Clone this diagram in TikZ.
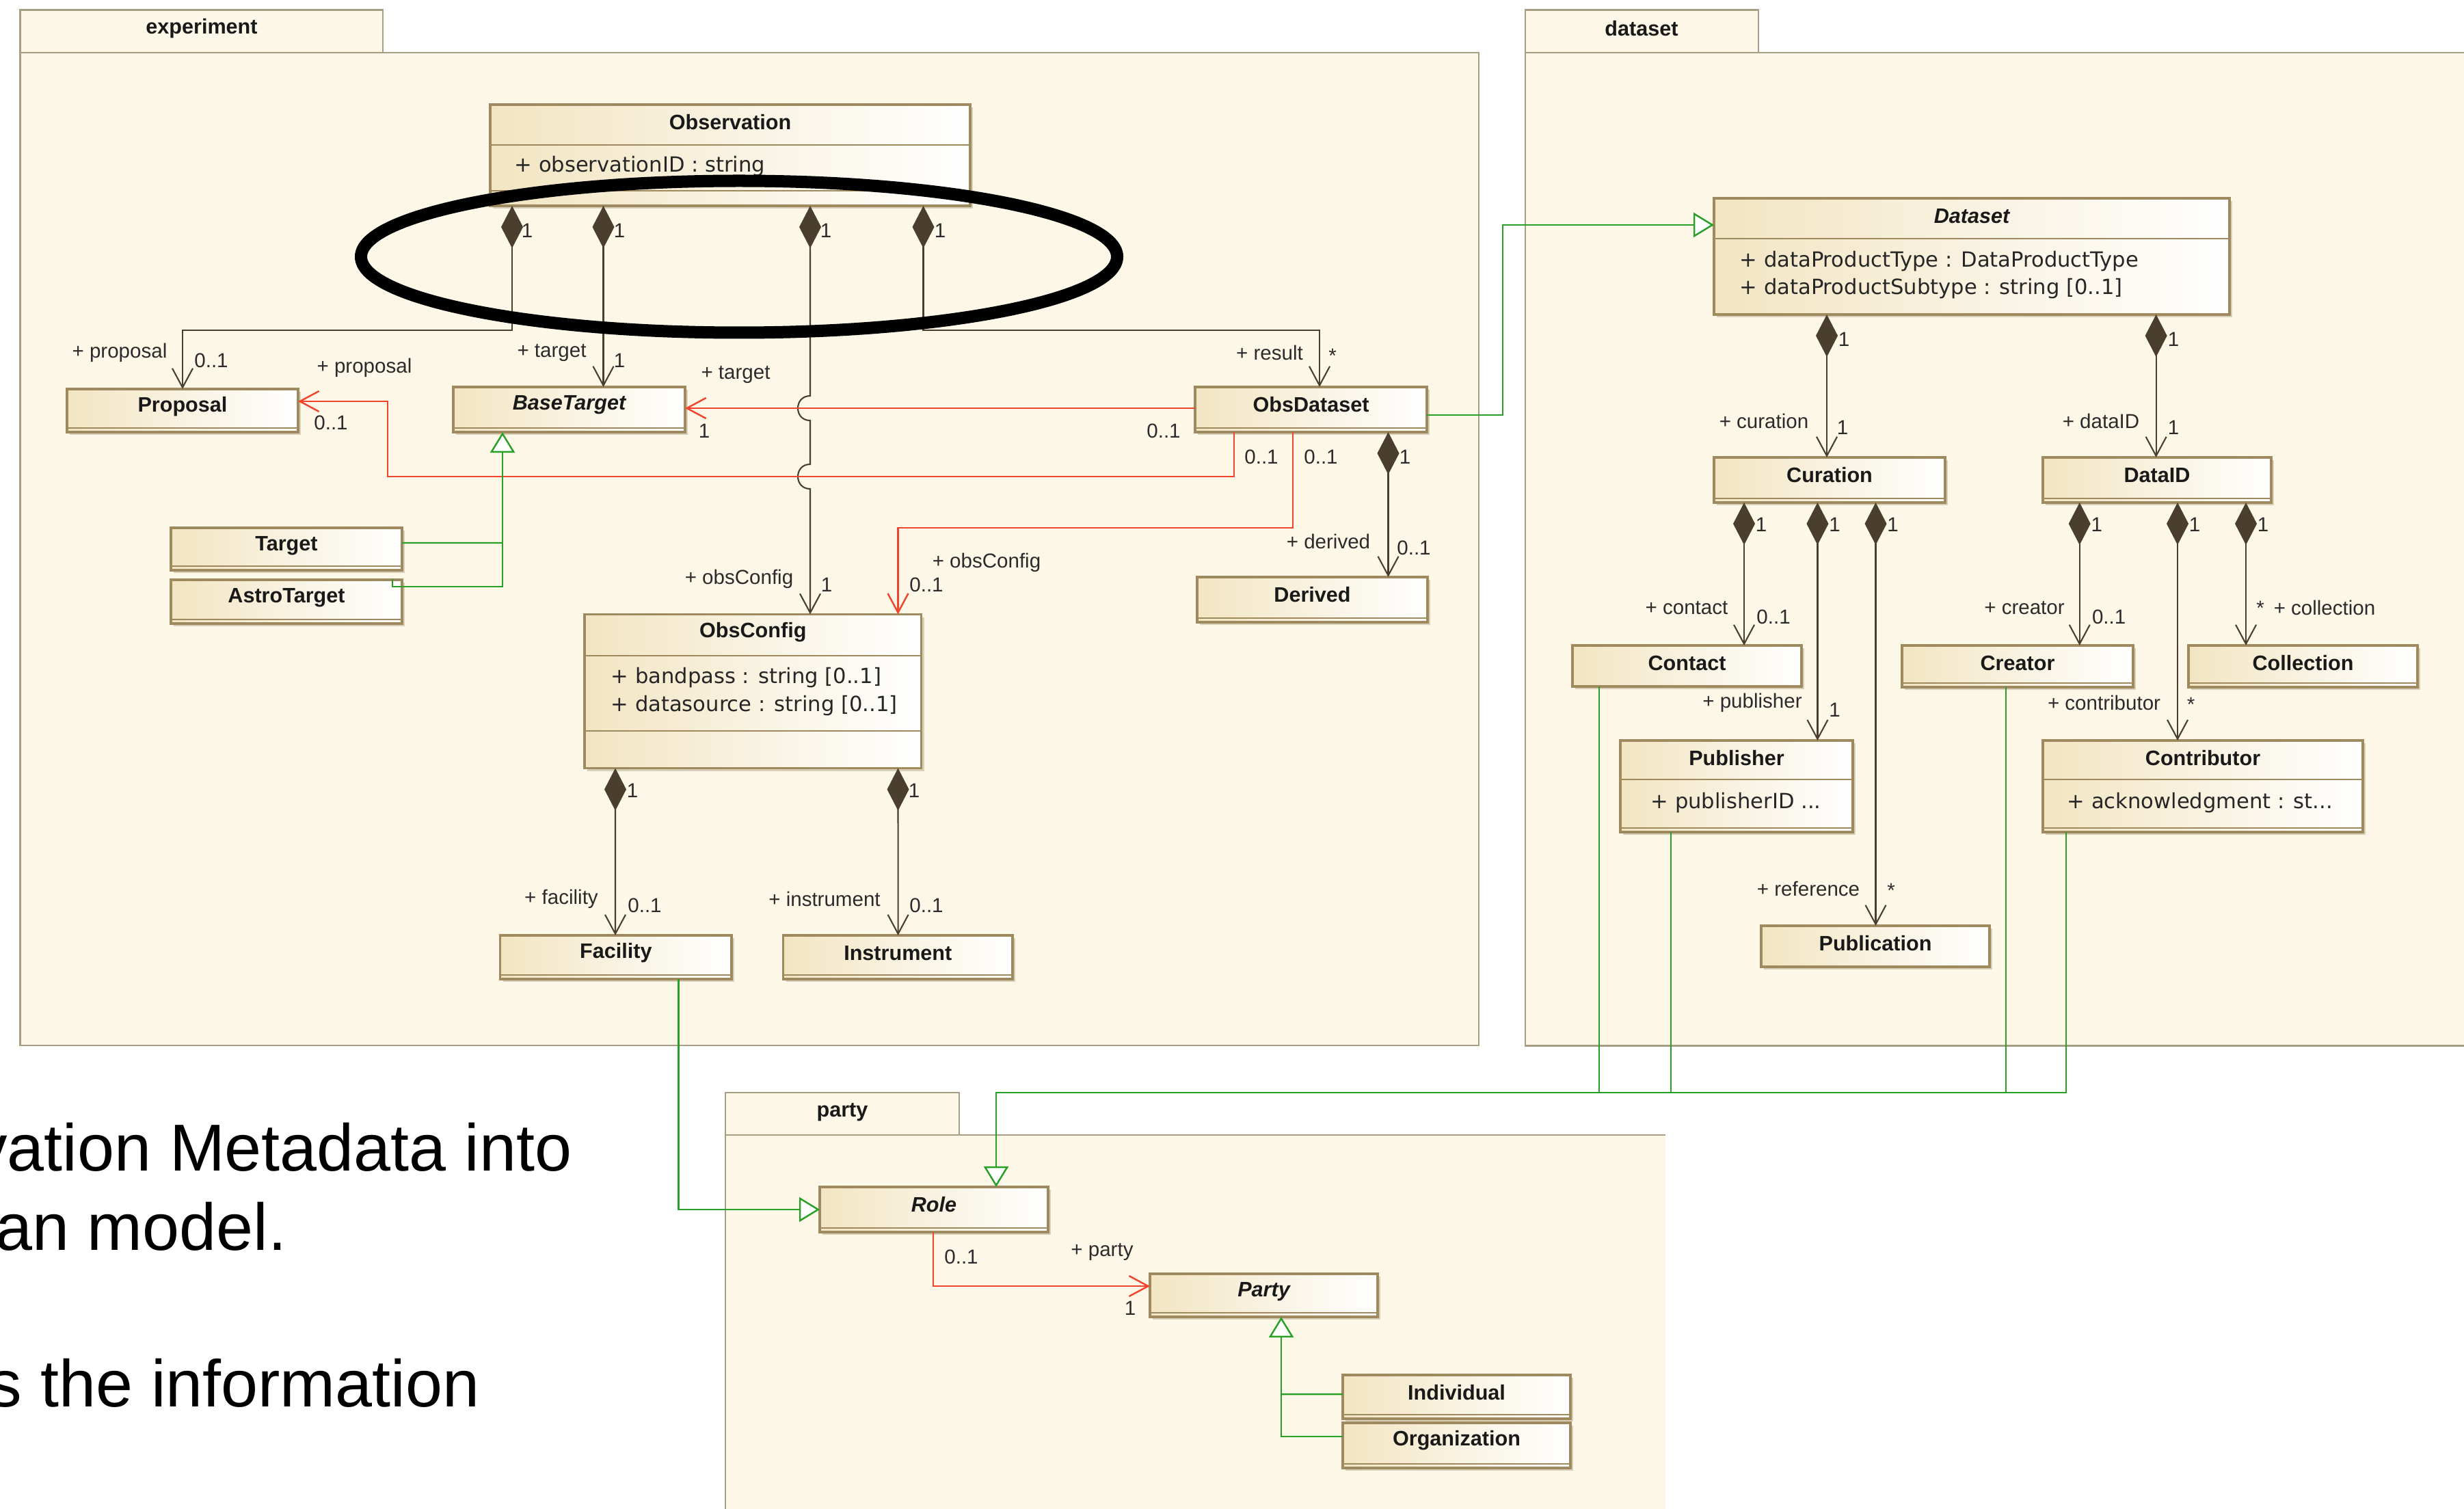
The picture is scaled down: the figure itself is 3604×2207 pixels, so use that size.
\documentclass[tikz,border=0pt]{standalone}
\usepackage{fontspec}
\setmainfont{Liberation Sans}
\newfontfamily\attrfont{DejaVu Sans}
\usetikzlibrary{arrows.meta,calc}

\definecolor{pkgfill}{HTML}{FDF7E8}
\definecolor{pkgline}{HTML}{A89E84}
\definecolor{clsline}{HTML}{9E8A5E}
\definecolor{clsleft}{HTML}{F2E5C2}
\definecolor{clsshadow}{HTML}{D9D0BA}
\definecolor{assocc}{HTML}{4A3F2C}
\definecolor{redc}{HTML}{F0452C}
\definecolor{greenc}{HTML}{28A028}
\definecolor{labc}{HTML}{2B2B2B}

\tikzset{
  pkg/.style={draw=pkgline, fill=pkgfill, line width=0.8pt},
  pkgtitle/.style={font=\bfseries\fontsize{8.7}{10}\selectfont, text=black!90, inner sep=0pt},
  clsbox/.style={rectangle, draw=clsline, line width=0.9pt, left color=clsleft, right color=white, inner sep=0pt, outer sep=0pt},
  clstitle/.style={font=\bfseries\fontsize{8.7}{10}\selectfont, text=black!90, inner sep=0pt},
  abstitle/.style={font=\bfseries\itshape\fontsize{8.7}{10}\selectfont, text=black!90, inner sep=0pt},
  attr/.style={font=\attrfont\fontsize{8.7}{10}\selectfont, text=black!85, inner sep=0pt, anchor=west},
  rolelbl/.style={font=\fontsize{8.4}{10}\selectfont, text=labc, inner sep=0pt},
  comp/.style={draw=assocc, line width=0.6pt, {Diamond[length=0.62cm,width=0.32cm,fill=assocc]}-{Straight Barb[length=0.28cm,width=0.3cm]}},
  redassoc/.style={draw=redc, line width=0.7pt, -{Straight Barb[length=0.28cm,width=0.3cm]}},
  genarrow/.style={draw=greenc, line width=0.7pt, -{Triangle[open,length=0.3cm,width=0.36cm,fill=white]}},
  genline/.style={draw=greenc, line width=0.7pt},
  bigtext/.style={font=\fontsize{27.6}{33}\selectfont, text=black, inner sep=0pt},
}

% class box: name, x1, y1, x2, y2, title, title style
\newcommand\umlclass[7]{%
  \fill[clsshadow] (#2+4,#3+4) rectangle (#4+4,#5+4);
  \pgfmathsetmacro\clsW{(#4-#2)*0.01}%
  \pgfmathsetmacro\clsH{(#5-#3)*0.01}%
  \node[clsbox, minimum width=\clsW cm, minimum height=\clsH cm, anchor=north west] (#1) at (#2,#3) {};%
  \node[#7] (#1-name) at ($(#1.north)+(0,26)$) {#6};%
}
% thin line of the empty compartments near the bottom
\newcommand\emptycomp[1]{%
  \draw[clsline, line width=0.6pt] ($(#1.south west)+(1,-6)$) -- ($(#1.south east)+(-1,-6)$);}
% compartment divider at a given offset below the top edge
\newcommand\compdiv[2]{%
  \draw[clsline, line width=0.8pt] ($(#1.north west)+(0,#2)$) -- ($(#1.north east)+(0,#2)$);}

\begin{document}
\begin{tikzpicture}[x=0.01cm, y=-0.01cm]
\useasboundingbox (0,0) rectangle (3604,2207);
\fill[white] (0,0) rectangle (3604,2207);

% ---------- packages ----------
\filldraw[pkg] (29.5,14.7) rectangle (560,77);
\filldraw[pkg] (29.5,77) rectangle (2163,1529);
\node[pkgtitle] (exp-name) at (295,42) {experiment};

\filldraw[pkg] (2231,14.7) rectangle (2572,77);
\filldraw[pkg] (2231,77) rectangle (3660,1529.5);
\node[pkgtitle] (dsp-name) at (2401,42) {dataset};

\filldraw[pkg] (1061,1598) rectangle (1403,1660);
\fill[pkgfill] (1061,1660) rectangle (2436,2260);
\draw[pkgline, line width=0.8pt] (1061,2260) -- (1061,1660) -- (2436,1660);
\node[pkgtitle] (pty-name) at (1232,1627) {party};

% ---------- experiment classes ----------
\umlclass{obs}{717}{153}{1419}{301}{Observation}{clstitle}
\compdiv{obs}{59}
\compdiv{obs}{126}
\node[attr] (obs-a1) at (752,243) {+ observationID : string};

\umlclass{prop}{98}{569}{436}{632}{Proposal}{clstitle}
\emptycomp{prop}
\umlclass{bt}{663}{566}{1002}{632}{BaseTarget}{abstitle}
\emptycomp{bt}
\umlclass{od}{1748}{566}{2087}{632}{ObsDataset}{clstitle}
\emptycomp{od}
\umlclass{tgt}{250}{772}{588}{834}{Target}{clstitle}
\emptycomp{tgt}
\umlclass{at}{250}{848}{588}{912}{AstroTarget}{clstitle}
\emptycomp{at}
\umlclass{der}{1751}{844}{2088}{910}{Derived}{clstitle}
\emptycomp{der}

\umlclass{oc}{855}{898.5}{1347.5}{1123.5}{ObsConfig}{clstitle}
\compdiv{oc}{60.5}
\compdiv{oc}{170.5}
\node[attr] (oc-a1) at (893,991.5) {+ bandpass : string [0..1]};
\node[attr] (oc-a2) at (893,1032) {+ datasource : string [0..1]};

\umlclass{fac}{731.6}{1368}{1070}{1432}{Facility}{clstitle}
\emptycomp{fac}
\umlclass{ins}{1145.6}{1368}{1481}{1432}{Instrument}{clstitle}
\emptycomp{ins}

% ---------- dataset classes ----------
\umlclass{ds}{2507}{290}{3261}{460}{Dataset}{abstitle}
\compdiv{ds}{59}
\node[attr] (ds-a1) at (2544,381.7) {+ dataProductType : DataProductType};
\node[attr] (ds-a2) at (2544,421.9) {+ dataProductSubtype : string [0..1]};

\umlclass{cur}{2507}{669}{2845}{735}{Curation}{clstitle}
\emptycomp{cur}
\umlclass{did}{2988}{669}{3322}{735}{DataID}{clstitle}
\emptycomp{did}
\umlclass{con}{2300}{944}{2635}{1004}{Contact}{clstitle}
\umlclass{cre}{2782}{944}{3120}{1005}{Creator}{clstitle}
\emptycomp{cre}
\umlclass{col}{3201}{944}{3536}{1005}{Collection}{clstitle}
\emptycomp{col}

\umlclass{pub}{2370}{1083}{2710}{1217}{Publisher}{clstitle}
\compdiv{pub}{57}
\emptycomp{pub}
\node[attr] (pub-a1) at (2414,1174) {+ publisherID ...};
\umlclass{ctb}{2988}{1083}{3456}{1217}{Contributor}{clstitle}
\compdiv{ctb}{57}
\emptycomp{ctb}
\node[attr] (ctb-a1) at (3023,1174) {+ acknowledgment : st...};
\umlclass{publ}{2576}{1354}{2910}{1414}{Publication}{clstitle}

% ---------- party classes ----------
\umlclass{role}{1199}{1736}{1533}{1802}{Role}{abstitle}
\emptycomp{role}
\umlclass{party}{1682}{1863}{2015}{1926}{Party}{abstitle}
\emptycomp{party}
\umlclass{ind}{1964}{2011}{2297}{2075}{Individual}{clstitle}
\emptycomp{ind}
\umlclass{org}{1964}{2081}{2297}{2147}{Organization}{clstitle}
\emptycomp{org}

% ---------- compositions from Observation ----------
\draw[comp] ($(obs.south west)+(32,0)$) |- ($(prop.north)+(0,-86)$) -- (prop.north);
\draw[comp] ($(obs.south west)+(165.5,0)$) -- ($(bt.north west)+(219.5,0)$);
\draw[comp] ($(obs.south west)+(468,0)$) -- (1185,579)
  .. controls (1161,579) and (1161,615) .. (1185,615) -- (1185,679)
  .. controls (1161,679) and (1161,715) .. (1185,715) -- ($(oc.north west)+(330,0)$);
\draw[comp] ($(obs.south west)+(633.5,0)$) |- ($(od.north west)+(182,-83)$) -- ($(od.north west)+(182,0)$);

\node[rolelbl] (m-o1) at (771,337) {1};
\node[rolelbl] (m-o2) at (906,337) {1};
\node[rolelbl] (m-o3) at (1208,337) {1};
\node[rolelbl] (m-o4) at (1375,337) {1};
\node[rolelbl] (r-prop) at (175,516) {+ proposal};
\node[rolelbl] (m-prop) at (309,527) {0..1};
\node[rolelbl] (r-tgt) at (807,516) {+ target};
\node[rolelbl] (m-tgt) at (906,527) {1};
\node[rolelbl] (r-oc) at (1081,847) {+ obsConfig};
\node[rolelbl] (m-oc) at (1209,855) {1};
\node[rolelbl] (r-res) at (1857,516) {+ result};
\node[rolelbl] (m-res) at (1949,520) {*};

% ---------- associations from ObsDataset ----------
\draw[redassoc] ($(od.north west)+(0,31)$) -- ($(bt.north east)+(0,31)$);
\draw[redassoc] ($(od.south west)+(57,0)$) |- ($(prop.north east)+(131,128)$) |- ($(prop.north east)+(0,18)$);
\draw[redassoc] ($(od.south west)+(143,0)$) |- ($(oc.north west)+(458.5,-126.5)$) -- ($(oc.north west)+(458.5,0)$);
\draw[comp] ($(od.south west)+(282.5,0)$) -- ($(der.north west)+(279.5,0)$);

\node[rolelbl] (r-bt2) at (1076,548) {+ target};
\node[rolelbl] (m-bt2) at (1030,630) {1};
\node[rolelbl] (m-od1) at (1702,630) {0..1};
\node[rolelbl] (r-prop2) at (533,538) {+ proposal};
\node[rolelbl] (m-prop2) at (484,618) {0..1};
\node[rolelbl] (m-od2) at (1845,668) {0..1};
\node[rolelbl] (m-od3) at (1932,668) {0..1};
\node[rolelbl] (r-oc2) at (1443,823) {+ obsConfig};
\node[rolelbl] (m-oc2) at (1355,855) {0..1};
\node[rolelbl] (m-od4) at (2055,668) {1};
\node[rolelbl] (r-der) at (1943,792) {+ derived};
\node[rolelbl] (m-der) at (2068,801) {0..1};

% ---------- generalizations to BaseTarget ----------
\draw[genline] ($(tgt.north east)+(0,22)$) -- ($(bt.south west)+(72,162)$);
\draw[genarrow] ($(at.north east)+(-14,-1)$) |- ($(bt.south west)+(72,226)$) -- ($(bt.south west)+(72,0)$);

% ---------- compositions from ObsConfig ----------
\draw[comp] ($(oc.south west)+(45,0)$) -- ($(fac.north west)+(168.4,0)$);
\draw[comp] ($(oc.south west)+(458.5,0)$) -- ($(ins.north west)+(168,0)$);
\node[rolelbl] (m-oc3) at (925,1156) {1};
\node[rolelbl] (r-fac) at (821,1315) {+ facility};
\node[rolelbl] (m-fac) at (943,1324) {0..1};
\node[rolelbl] (m-oc4) at (1337,1156) {1};
\node[rolelbl] (r-ins) at (1206,1315) {+ instrument};
\node[rolelbl] (m-ins) at (1355,1324) {0..1};

% ---------- ObsDataset is a Dataset ----------
\draw[genarrow] ($(od.north east)+(0,41)$) -| ($(ds.north west)+(-309,39)$) -- ($(ds.north west)+(0,39)$);

% ---------- compositions in dataset ----------
\draw[comp] ($(ds.south west)+(165,0)$) -- ($(cur.north west)+(165,0)$);
\draw[comp] ($(ds.south west)+(646.6,0)$) -- ($(did.north west)+(165.6,0)$);
\node[rolelbl] (m-ds1) at (2697,496) {1};
\node[rolelbl] (r-cur) at (2580,616) {+ curation};
\node[rolelbl] (m-cur) at (2695,625) {1};
\node[rolelbl] (m-ds2) at (3179,496) {1};
\node[rolelbl] (r-did) at (3073,616) {+ dataID};
\node[rolelbl] (m-did) at (3179,625) {1};

\draw[comp] ($(cur.south west)+(44,0)$) -- ($(con.north west)+(251,0)$);
\draw[comp] ($(cur.south west)+(151.4,0)$) -- ($(pub.north west)+(288.4,0)$);
\draw[comp] ($(cur.south west)+(236.5,0)$) -- ($(publ.north west)+(167.5,0)$);
\node[rolelbl] (m-cu1) at (2576,767) {1};
\node[rolelbl] (m-cu2) at (2683.5,767) {1};
\node[rolelbl] (m-cu3) at (2768.6,767) {1};
\node[rolelbl] (r-con) at (2467,889) {+ contact};
\node[rolelbl] (m-con) at (2594,902) {0..1};
\node[rolelbl] (r-pub) at (2563,1028) {+ publisher};
\node[rolelbl] (m-pub) at (2683.5,1038) {1};
\node[rolelbl] (r-ref) at (2645,1300) {+ reference};
\node[rolelbl] (m-ref) at (2766,1302) {*};

\draw[comp] ($(did.south west)+(53.7,0)$) -- ($(cre.north west)+(259.7,0)$);
\draw[comp] ($(did.south west)+(197,0)$) -- ($(ctb.north west)+(197,0)$);
\draw[comp] ($(did.south west)+(297,0)$) -- ($(col.north west)+(84,0)$);
\node[rolelbl] (m-di1) at (3066.7,767) {1};
\node[rolelbl] (m-di2) at (3210,767) {1};
\node[rolelbl] (m-di3) at (3310,767) {1};
\node[rolelbl] (r-cre) at (2961,889) {+ creator};
\node[rolelbl] (m-cre) at (3084.6,902) {0..1};
\node[rolelbl] (r-ctb) at (3077.5,1028) {+ contributor};
\node[rolelbl] (m-ctb) at (3204.6,1030) {*};
\node[rolelbl] (m-col) at (3306,889) {*};
\node[rolelbl] (r-col) at (3400,889) {+ collection};

% ---------- generalizations to Role ----------
\coordinate (rolebus) at ($(role.north west)+(258,-138)$);
\draw[genarrow] ($(ctb.south west)+(34,0)$) |- (rolebus) -- ($(role.north west)+(258,0)$);
\draw[genline] ($(cre.south west)+(152,0)$) |- (rolebus);
\draw[genline] ($(pub.south west)+(74,0)$) |- (rolebus);
\draw[genline] ($(con.south west)+(39,0)$) |- (rolebus);
\draw[genarrow] ($(fac.south west)+(261,0)$) |- (role.west);

% ---------- party ----------
\draw[redassoc] ($(role.south west)+(166,0)$) |- ($(party.north west)+(0,18)$);
\node[rolelbl] (m-role) at (1406,1838) {0..1};
\node[rolelbl] (r-party) at (1612,1831) {+ party};
\node[rolelbl] (m-party) at (1653,1913) {1};

\draw[genarrow] ($(org.north west)+(0,20)$) -| ($(party.south west)+(192,0)$);
\draw[genline] ($(ind.north west)+(0,28)$) -- ($(party.south west)+(192,113)$);

% ---------- highlight ring ----------
\draw[black, line width=0.18cm] (1081,375.5) ellipse [x radius=553, y radius=111];

% ---------- slide text ----------
\node[bigtext, anchor=base east] (txt1) at (837,1712) {vation Metadata into};
\node[bigtext, anchor=base east] (txt2) at (420,1828) {an model.};
\node[bigtext, anchor=base east] (txt3) at (702,2057) {s the information};
\end{tikzpicture}
\end{document}
